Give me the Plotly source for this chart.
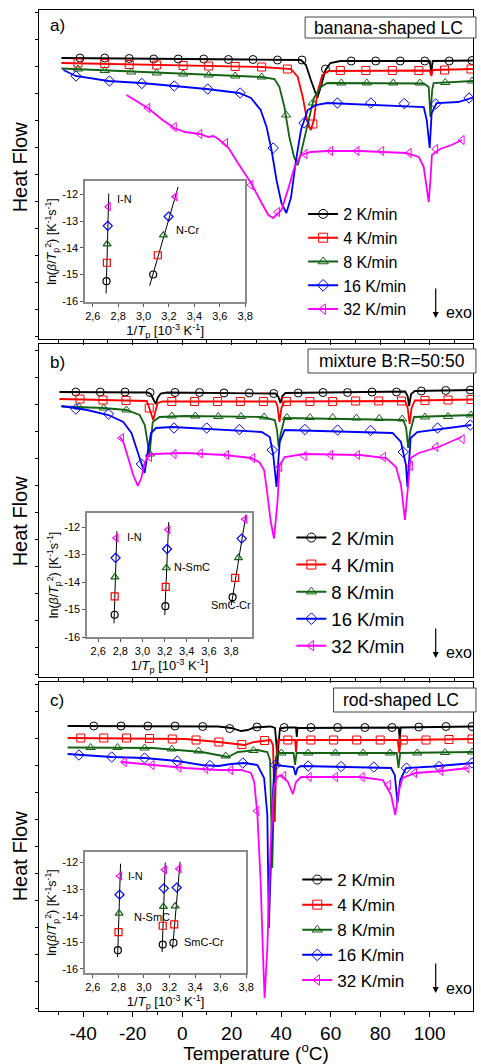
import plotly.graph_objects as go

# ---------------- data (temperature in °C, heat flow in arbitrary units) ----------------
RATES = ["2 K/min", "4 K/min", "8 K/min", "16 K/min", "32 K/min"]

# Panel a) banana-shaped LC : curves
A2_T = [-48.8, -13.9, 25.8, 48.0, 50.0, 52.0, 54.0, 54.6, 56.0, 57.9, 59.9, 63.9, 100.0, 100.7, 101.2, 117.5]
A2_HF = [28.1, 28.0, 27.95, 27.9, 27.4, 25.9, 24.4, 24.1, 25.2, 26.9, 27.6, 27.8, 27.8, 26.6, 27.8, 27.85]
A4_T = [-48.8, -13.9, 32.1, 44.0, 46.7, 48.7, 50.7, 52.0, 53.2, 54.6, 56.6, 59.1, 100.0, 100.7, 101.2, 117.5]
A4_HF = [27.6, 27.45, 27.2, 27.0, 26.2, 24.2, 21.6, 20.9, 21.9, 24.6, 26.4, 26.8, 26.85, 26.3, 26.9, 27.0]
A8_T = [-48.8, -13.9, 32.1, 37.3, 39.3, 41.3, 43.3, 45.2, 46.7, 48.0, 50.7, 53.2, 56.0, 58.6, 97.6, 99.6, 100.3, 101.0, 101.6, 117.5]
A8_HF = [27.05, 26.7, 26.2, 26.0, 25.2, 23.2, 20.2, 18.2, 17.4, 18.6, 21.6, 24.1, 25.2, 25.6, 25.55, 25.2, 22.2, 24.9, 25.6, 25.8]
A16_T = [-48.0, -43.0, -29.8, -16.7, -3.3, 9.9, 23.0, 27.8, 31.7, 34.1, 36.1, 38.1, 40.1, 42.1, 44.0, 46.0, 48.0, 50.7, 54.0, 58.6, 97.6, 98.8, 100.0, 100.8, 102.8, 111.5, 117.5]
A16_HF = [26.9, 26.3, 25.8, 25.6, 25.3, 25.0, 24.6, 24.1, 22.9, 21.2, 18.9, 15.9, 13.6, 12.6, 14.2, 17.9, 20.9, 22.9, 23.4, 23.6, 23.2, 21.9, 19.1, 22.6, 23.6, 23.7, 24.15]
A32_T = [-22.5, -13.9, -7.9, -3.3, 1.2, 7.1, 10.6, 12.6, 14.6, 18.5, 22.5, 27.8, 32.1, 34.8, 36.8, 40.1, 42.7, 45.4, 48.0, 52.0, 58.6, 71.8, 90.4, 95.6, 97.6, 98.9, 99.6, 100.3, 100.9, 104.2, 108.8, 113.1]
A32_HF = [24.4, 23.1, 21.9, 21.1, 20.7, 20.5, 20.2, 20.3, 20.0, 19.2, 17.6, 15.6, 13.6, 12.4, 12.1, 12.9, 14.9, 17.2, 18.4, 18.7, 18.8, 18.8, 18.6, 18.2, 17.2, 14.9, 13.7, 15.9, 18.4, 19.0, 19.4, 19.9]
# Panel a) symbol positions
A2_mT = [-41.3, -31.3, -21.4, -11.5, -1.6, 8.7, 18.7, 28.6, 38.5, 48.4, 57.9, 68.3, 78.2, 88.1, 98.0, 107.9, 117.1]
A2_mHF = [28.1, 28.1, 28.05, 28.0, 28.0, 28.0, 27.95, 27.95, 27.9, 27.9, 27.0, 27.8, 27.8, 27.8, 27.8, 27.8, 27.85]
A4_mT = [-42.1, -31.3, -21.4, -10.3, 0.4, 10.7, 21.4, 32.1, 42.5, 52.8, 63.9, 74.2, 84.9, 95.6, 106.0, 116.7]
A4_mHF = [27.6, 27.55, 27.45, 27.4, 27.35, 27.3, 27.25, 27.2, 27.0, 21.5, 26.85, 26.85, 26.85, 26.85, 26.9, 27.0]
A8_mT = [-42.1, -31.3, -20.6, -10.3, 0.4, 10.7, 21.4, 32.1, 42.0, 52.7, 64.3, 74.6, 85.3, 96.0, 106.3, 117.1]
A8_mHF = [27.0, 26.85, 26.7, 26.6, 26.5, 26.4, 26.3, 26.2, 22.4, 23.6, 25.6, 25.6, 25.6, 25.6, 25.65, 25.8]
A16_mT = [-42.9, -29.4, -16.3, -3.2, 10.3, 23.4, 36.8, 49.2, 62.7, 76.2, 89.7, 102.4, 115.9]
A16_mHF = [26.3, 25.8, 25.55, 25.3, 25.0, 24.6, 19.1, 21.6, 23.6, 23.6, 23.55, 23.5, 24.1]
A32_mT = [-13.9, -3.2, 7.1, 17.5, 27.8, 38.5, 49.6, 59.9, 70.6, 80.6, 91.7, 102.4, 113.1]
A32_mHF = [23.1, 21.2, 20.5, 19.6, 15.4, 12.7, 18.5, 18.8, 18.8, 18.8, 18.6, 19.0, 19.9]

# Panel b) mixture B:R=50:50 : curves
B2_T = [-49.6, -13.9, -12.7, -11.5, -10.7, -9.9, -8.7, -6.0, 37.7, 38.9, 39.7, 40.5, 41.7, 90.1, 91.1, 91.7, 92.5, 94.0, 117.5]
B2_HF = [28.5, 28.45, 28.3, 27.7, 27.3, 27.9, 28.35, 28.45, 28.35, 28.0, 27.4, 28.1, 28.4, 28.55, 28.1, 27.1, 28.3, 28.6, 28.7]
B4_T = [-49.6, -14.3, -13.3, -12.3, -11.7, -10.9, -9.9, -7.9, 37.7, 38.5, 39.3, 40.1, 41.3, 90.1, 91.1, 91.9, 92.7, 94.0, 117.5]
B4_HF = [27.8, 27.6, 26.9, 26.0, 25.7, 26.5, 27.4, 27.55, 27.55, 27.1, 25.5, 26.9, 27.55, 27.6, 26.9, 25.3, 26.9, 27.65, 27.75]
B8_T = [-48.8, -31.7, -22.6, -17.2, -15.1, -13.9, -13.2, -11.9, -9.2, 1.2, 32.1, 37.4, 38.3, 39.0, 39.7, 41.4, 89.3, 90.5, 91.3, 92.1, 93.7, 117.5]
B8_HF = [27.05, 26.9, 26.7, 26.2, 25.2, 23.2, 22.2, 25.5, 26.0, 26.1, 26.0, 25.7, 24.7, 23.0, 24.2, 25.9, 25.7, 24.9, 22.9, 24.5, 26.0, 26.2]
B16_T = [-48.8, -38.4, -29.8, -23.8, -20.5, -18.5, -16.9, -15.2, -13.9, -12.6, -10.6, -4.0, 32.1, 35.4, 36.8, 38.1, 39.4, 41.4, 85.0, 88.4, 90.4, 91.0, 92.3, 95.0, 116.8]
B16_HF = [27.1, 26.7, 26.2, 25.5, 24.4, 22.9, 21.5, 20.4, 22.5, 24.4, 24.9, 25.0, 24.5, 24.0, 22.2, 19.0, 23.5, 24.7, 24.4, 23.5, 21.2, 19.0, 23.9, 24.5, 25.2]
B32_T = [-25.1, -23.8, -21.8, -19.8, -17.9, -16.5, -15.2, -13.9, -11.9, 1.3, 17.2, 27.8, 31.1, 33.1, 34.1, 35.8, 37.1, 38.5, 39.4, 41.4, 49.3, 71.8, 82.4, 86.4, 88.4, 90.0, 91.3, 92.3, 95.6, 103.6, 112.8]
B32_HF = [24.0, 23.5, 21.9, 20.2, 19.1, 19.9, 21.4, 22.0, 22.3, 22.4, 22.2, 21.9, 21.5, 20.7, 18.9, 15.5, 13.85, 17.5, 21.2, 22.0, 22.3, 22.2, 21.9, 21.0, 19.2, 15.7, 19.2, 21.9, 22.4, 23.0, 24.0]
# Panel b) symbol positions
B2_mT = [-43.0, -33.1, -23.1, -13.0, -2.9, 7.0, 16.9, 27.1, 37.0, 46.9, 56.9, 66.8, 76.7, 86.6, 96.6, 106.5, 116.4]
B2_mHF = [28.5, 28.5, 28.5, 28.45, 28.45, 28.45, 28.4, 28.4, 28.35, 28.4, 28.45, 28.45, 28.5, 28.5, 28.6, 28.65, 28.7]
B4_mT = [-41.3, -32.0, -22.7, -13.3, -4.2, 5.0, 14.3, 23.5, 32.8, 42.1, 51.6, 60.8, 70.1, 79.4, 88.6, 98.1, 107.4, 116.7]
B4_mHF = [27.8, 27.7, 27.65, 26.9, 27.55, 27.55, 27.55, 27.55, 27.55, 27.55, 27.55, 27.55, 27.6, 27.6, 27.6, 27.65, 27.7, 27.75]
B8_mT = [-41.7, -31.7, -22.5, -13.0, -4.2, 5.3, 14.6, 23.8, 33.1, 42.3, 51.6, 60.8, 70.4, 79.6, 88.9, 98.1, 107.4, 116.7]
B8_mHF = [27.0, 26.9, 26.7, 22.3, 26.1, 26.1, 26.05, 26.05, 26.0, 25.95, 25.95, 25.95, 25.9, 25.85, 25.8, 26.0, 26.05, 26.2]
B16_mT = [-43.0, -29.8, -16.5, -3.3, 9.9, 23.1, 36.4, 49.6, 62.8, 76.1, 89.3, 103.2, 116.4]
B16_mHF = [26.8, 26.3, 21.3, 24.9, 24.9, 24.75, 22.7, 24.75, 24.7, 24.65, 22.5, 24.9, 25.2]
B32_mT = [-24.5, -13.2, -3.3, 7.3, 17.9, 28.5, 39.4, 49.3, 59.9, 70.8, 81.3, 92.2, 102.5, 113.1]
B32_mHF = [23.9, 22.0, 22.3, 22.35, 22.2, 21.9, 21.0, 22.1, 22.2, 22.2, 22.0, 21.1, 23.0, 23.8]

# Panel c) rod-shaped LC : curves
C2_T = [-46.3, 14.6, 19.8, 23.8, 26.5, 29.1, 35.7, 37.5, 38.1, 38.5, 38.9, 39.5, 41.7, 46.0, 46.3, 46.6, 87.5, 87.9, 88.3, 117.5]
C2_HF = [28.5, 28.45, 28.3, 28.0, 28.1, 28.35, 28.45, 28.3, 26.6, 24.6, 26.6, 28.25, 28.35, 28.35, 27.4, 28.3, 28.35, 27.1, 28.35, 28.45]
C4_T = [-46.3, 1.3, 14.6, 21.2, 25.1, 29.1, 35.7, 36.7, 37.4, 38.0, 38.8, 45.6, 46.0, 46.4, 87.1, 87.7, 88.3, 117.5]
C4_HF = [27.3, 27.2, 26.9, 26.7, 26.6, 26.9, 27.1, 26.6, 18.9, 25.1, 27.1, 27.1, 25.9, 27.1, 27.1, 25.8, 27.1, 27.2]
C8_T = [-46.3, -11.9, 7.9, 14.6, 18.5, 22.5, 30.4, 34.4, 35.5, 36.4, 37.1, 37.9, 38.8, 45.0, 45.6, 46.2, 86.7, 87.4, 88.1, 117.5]
C8_HF = [26.35, 26.3, 25.9, 25.6, 25.4, 25.9, 26.1, 25.9, 25.1, 14.3, 22.1, 25.4, 25.8, 25.8, 24.6, 25.8, 25.8, 24.3, 25.8, 25.9]
C16_T = [-46.3, -28.5, -15.2, -2.0, 7.9, 14.6, 19.8, 25.1, 30.4, 33.1, 34.4, 35.0, 35.9, 36.7, 37.4, 41.7, 45.0, 45.8, 46.6, 48.0, 84.4, 85.9, 87.0, 88.1, 90.4, 101.2, 117.5]
C16_HF = [25.7, 25.4, 25.3, 25.0, 24.6, 24.5, 24.7, 24.8, 24.6, 23.3, 19.6, 8.3, 15.1, 22.1, 24.6, 24.5, 24.4, 23.6, 24.3, 24.5, 24.3, 23.6, 20.8, 23.1, 24.3, 24.45, 24.8]
C32_T = [-24.5, -11.9, 1.3, 14.6, 23.8, 27.8, 29.1, 30.4, 31.7, 32.8, 33.3, 34.4, 35.7, 37.0, 38.4, 40.1, 42.7, 44.7, 46.0, 48.0, 71.8, 81.1, 84.4, 86.1, 87.4, 89.0, 94.3, 104.9, 115.5]
C32_HF = [24.9, 24.6, 24.3, 24.1, 24.1, 23.8, 22.9, 19.6, 12.9, 4.6, 1.3, 6.3, 16.3, 22.3, 23.4, 23.6, 22.9, 21.7, 22.9, 23.4, 23.4, 23.1, 21.6, 19.6, 21.9, 23.3, 23.8, 24.0, 24.3]
# Panel c) symbol positions
C2_mT = [-35.7, -24.7, -13.9, -2.9, 8.3, 19.2, 30.2, 41.2, 52.0, 62.8, 73.8, 84.8, 95.6, 106.6, 117.1]
C2_mHF = [28.5, 28.5, 28.5, 28.5, 28.45, 28.25, 28.4, 28.35, 28.35, 28.35, 28.35, 28.35, 28.4, 28.45, 28.45]
C4_mT = [-41.0, -31.7, -22.5, -13.2, -4.0, 5.6, 14.8, 24.1, 33.3, 42.7, 52.0, 61.2, 70.5, 80.0, 89.3, 98.5, 107.8, 117.1]
C4_mHF = [27.3, 27.3, 27.3, 27.25, 27.2, 27.1, 26.9, 26.65, 27.05, 27.1, 27.1, 27.1, 27.1, 27.1, 27.1, 27.1, 27.15, 27.2]
C8_mT = [-37.0, -26.1, -15.2, -4.2, 6.6, 17.6, 28.8, 40.1, 50.9, 61.9, 73.1, 84.0, 95.0, 106.2, 117.1]
C8_mHF = [26.35, 26.35, 26.3, 26.2, 26.0, 25.5, 26.05, 25.8, 25.8, 25.8, 25.8, 25.8, 25.8, 25.85, 25.9]
C16_mT = [-41.7, -28.5, -15.2, -2.0, 11.2, 24.5, 37.7, 50.9, 64.2, 77.4, 90.6, 103.8, 117.1]
C16_mHF = [25.6, 25.4, 25.3, 25.0, 24.55, 24.8, 24.6, 24.5, 24.45, 24.4, 24.3, 24.45, 24.8]
C32_mT = [-23.4, -12.2, -1.3, 9.5, 19.6, 30.2, 41.0, 51.3, 61.9, 72.7, 83.3, 93.9, 104.5, 115.1]
C32_mHF = [24.9, 24.6, 24.35, 24.2, 24.1, 20.0, 23.5, 23.4, 23.4, 23.4, 22.6, 23.8, 24.0, 24.3]

# Insets: ln(beta/Tp^2) vs 1/Tp   (points ordered 2, 4, 8, 16, 32 K/min)
IA_IN_X = [2.708, 2.711, 2.713, 2.718, 2.723]
IA_IN_Y = [-15.25, -14.56, -13.86, -13.18, -12.46]
IA_NCR_X = [3.076, 3.112, 3.156, 3.197, 3.249]
IA_NCR_Y = [-15.00, -14.28, -13.53, -12.83, -12.09]
IA_IN_FIT_X = [2.705, 2.726]
IA_IN_FIT_Y = [-15.71, -11.97]
IA_NCR_FIT_X = [3.048, 3.272]
IA_NCR_FIT_Y = [-15.42, -11.72]

IB_IN_X = [2.749, 2.749, 2.751, 2.757, 2.763]
IB_IN_Y = [-15.19, -14.52, -13.82, -13.12, -12.40]
IB_NSMC_X = [3.207, 3.210, 3.216, 3.222, 3.231]
IB_NSMC_Y = [-14.88, -14.18, -13.49, -12.80, -12.10]
IB_SMCCR_X = [3.814, 3.837, 3.867, 3.896, 3.926]
IB_SMCCR_Y = [-14.55, -13.85, -13.12, -12.42, -11.72]
IB_IN_FIT_X = [2.743, 2.769]
IB_IN_FIT_Y = [-15.50, -12.15]
IB_NSMC_FIT_X = [3.201, 3.237]
IB_NSMC_FIT_Y = [-15.20, -11.82]
IB_SMCCR_FIT_X = [3.802, 3.935]
IB_SMCCR_FIT_Y = [-14.85, -11.55]

IC_IN_X = [2.796, 2.801, 2.806, 2.809, 2.811]
IC_IN_Y = [-15.30, -14.62, -13.91, -13.21, -12.50]
IC_NSMC_X = [3.147, 3.147, 3.152, 3.155, 3.162]
IC_NSMC_Y = [-15.09, -14.38, -13.66, -12.97, -12.27]
IC_SMCCR_X = [3.231, 3.237, 3.244, 3.257, 3.275]
IC_SMCCR_Y = [-15.02, -14.33, -13.64, -12.94, -12.23]
IC_IN_FIT_X = [2.794, 2.817]
IC_IN_FIT_Y = [-15.56, -12.04]
IC_NSMC_FIT_X = [3.142, 3.167]
IC_NSMC_FIT_Y = [-15.37, -12.00]
IC_SMCCR_FIT_X = [3.224, 3.283]
IC_SMCCR_FIT_Y = [-15.24, -11.97]

MAIN_TICKS = [-40, -20, 0, 20, 40, 60, 80, 100]
MAIN_TICKTEXT = ["-40", "-20", "0", "20", "40", "60", "80", "100"]
INSET_XTICKS = [2.6, 2.8, 3.0, 3.2, 3.4, 3.6, 3.8]
INSET_XTEXT = ["2,6", "2,8", "3,0", "3,2", "3,4", "3,6", "3,8"]
INSET_YTICKS = [-12, -13, -14, -15, -16]
INSET_YTEXT = ["-12", "-13", "-14", "-15", "-16"]

# ---------------- styling ----------------
COLORS = ["#000000", "#ff0000", "#136313", "#0000ff", "#ff00ff"]
SYMBOLS = ["circle-open", "square-open", "triangle-up-open", "diamond-open", "triangle-left-open"]
FONT = "Liberation Sans, Arial, sans-serif"

W, H = 481, 1064
ML, MR, MT, MB = 39, 0, 10, 53
PW = W - ML - MR
PH = H - MT - MB


def fx(p):
    return (p - ML) / PW


def fy(p):
    return (H - MB - p) / PH


fig = go.Figure()

panels = [
    ("x", "y", "legend", [(A2_T, A2_HF, A2_mT, A2_mHF), (A4_T, A4_HF, A4_mT, A4_mHF),
                          (A8_T, A8_HF, A8_mT, A8_mHF), (A16_T, A16_HF, A16_mT, A16_mHF),
                          (A32_T, A32_HF, A32_mT, A32_mHF)]),
    ("x2", "y2", "legend2", [(B2_T, B2_HF, B2_mT, B2_mHF), (B4_T, B4_HF, B4_mT, B4_mHF),
                             (B8_T, B8_HF, B8_mT, B8_mHF), (B16_T, B16_HF, B16_mT, B16_mHF),
                             (B32_T, B32_HF, B32_mT, B32_mHF)]),
    ("x3", "y3", "legend3", [(C2_T, C2_HF, C2_mT, C2_mHF), (C4_T, C4_HF, C4_mT, C4_mHF),
                             (C8_T, C8_HF, C8_mT, C8_mHF), (C16_T, C16_HF, C16_mT, C16_mHF),
                             (C32_T, C32_HF, C32_mT, C32_mHF)]),
]

for xa, ya, lg, series in panels:
    for i, (t, hf, mt, mhf) in enumerate(series):
        fig.add_trace(go.Scatter(x=t, y=hf, mode="lines", xaxis=xa, yaxis=ya,
                                 line=dict(color=COLORS[i], width=1.8), showlegend=False,
                                 hoverinfo="skip"))
        fig.add_trace(go.Scatter(x=mt, y=mhf, mode="markers", xaxis=xa, yaxis=ya,
                                 marker=dict(symbol=SYMBOLS[i], size=8, color=COLORS[i],
                                             line=dict(width=1)),
                                 showlegend=False, hoverinfo="skip"))
    for i, name in enumerate(RATES):
        fig.add_trace(go.Scatter(x=[None], y=[None], mode="lines+markers", name=name,
                                 xaxis=xa, yaxis=ya, legend=lg,
                                 line=dict(color=COLORS[i], width=2),
                                 marker=dict(symbol=SYMBOLS[i], size=9, color=COLORS[i],
                                             line=dict(width=1))))

insets = [
    ("x4", "y4", [(IA_IN_FIT_X, IA_IN_FIT_Y, IA_IN_X, IA_IN_Y),
                  (IA_NCR_FIT_X, IA_NCR_FIT_Y, IA_NCR_X, IA_NCR_Y)]),
    ("x5", "y5", [(IB_IN_FIT_X, IB_IN_FIT_Y, IB_IN_X, IB_IN_Y),
                  (IB_NSMC_FIT_X, IB_NSMC_FIT_Y, IB_NSMC_X, IB_NSMC_Y),
                  (IB_SMCCR_FIT_X, IB_SMCCR_FIT_Y, IB_SMCCR_X, IB_SMCCR_Y)]),
    ("x6", "y6", [(IC_IN_FIT_X, IC_IN_FIT_Y, IC_IN_X, IC_IN_Y),
                  (IC_NSMC_FIT_X, IC_NSMC_FIT_Y, IC_NSMC_X, IC_NSMC_Y),
                  (IC_SMCCR_FIT_X, IC_SMCCR_FIT_Y, IC_SMCCR_X, IC_SMCCR_Y)]),
]
for xa, ya, groups in insets:
    for fxs, fys, px_, py_ in groups:
        fig.add_trace(go.Scatter(x=fxs, y=fys, mode="lines", xaxis=xa, yaxis=ya,
                                 line=dict(color="black", width=1), showlegend=False,
                                 hoverinfo="skip"))
        fig.add_trace(go.Scatter(x=px_, y=py_, mode="markers", xaxis=xa, yaxis=ya,
                                 marker=dict(symbol=SYMBOLS, size=7, color=COLORS,
                                             line=dict(width=1.2)),
                                 showlegend=False, hoverinfo="skip"))

# ---------------- axes ----------------
main_dom = {
    "": [fy(339), fy(10)],
    "2": [fy(677), fy(344)],
    "3": [fy(1011), fy(682)],
}
yr = {"": [0, 32.9], "2": [0, 33.3], "3": [0, 32.9]}
layout_axes = {}
for k in ["", "2", "3"]:
    layout_axes["xaxis" + k] = dict(
        domain=[0, 1], range=[-57.85, 117.5], anchor="y" + k,
        showline=True, linecolor="black", linewidth=1.3, mirror=True,
        ticks="outside", ticklen=5, tickwidth=1, tickcolor="black",
        tickmode="array", tickvals=MAIN_TICKS, ticktext=MAIN_TICKTEXT,
        minor=dict(tickmode="linear", tick0=0, dtick=10, ticks="outside", ticklen=3,
                   tickcolor="black"),
        showgrid=False, zeroline=False, showticklabels=(k == "3"),
        tickfont=dict(size=19, color="black", family=FONT),
    )
    layout_axes["yaxis" + k] = dict(
        domain=main_dom[k], range=yr[k], anchor="x" + k,
        showline=True, linecolor="black", linewidth=1.3, mirror=True,
        ticks="outside", ticklen=3, tickcolor="black", dtick=2.7, tick0=0.3,
        showticklabels=False, showgrid=False, zeroline=False,
    )
layout_axes["xaxis3"]["title"] = dict(text="Temperature (<sup>o</sup>C)",
                                      font=dict(size=19, color="black", family=FONT),
                                      standoff=5)

inset_geo = {
    "4": dict(x=[fx(86), fx(249)], y=[fy(302), fy(181)], xr=[2.54, 3.8], yr=[-16.03, -11.5]),
    "5": dict(x=[fx(88), fx(256)], y=[fy(637), fy(513)], xr=[2.5, 3.99], yr=[-16.0, -11.49]),
    "6": dict(x=[fx(86), fx(250)], y=[fy(973), fy(852)], xr=[2.54, 3.8], yr=[-16.16, -11.6]),
}
for k, g in inset_geo.items():
    layout_axes["xaxis" + k] = dict(
        domain=g["x"], range=g["xr"], anchor="y" + k,
        showline=True, linecolor="#8a8a8a", linewidth=1.5, mirror=True,
        ticks="outside", ticklen=3, tickcolor="#555555",
        tickmode="array", tickvals=INSET_XTICKS, ticktext=INSET_XTEXT,
        tickfont=dict(size=11, color="black", family=FONT),
        showgrid=False, zeroline=False,
        title=dict(text="1/<i>T</i><sub>p</sub> [10<sup>-3</sup> K<sup>-1</sup>]",
                   font=dict(size=13, color="black", family=FONT), standoff=2),
    )
    layout_axes["yaxis" + k] = dict(
        domain=g["y"], range=g["yr"], anchor="x" + k,
        showline=True, linecolor="#8a8a8a", linewidth=1.5, mirror=True,
        ticks="outside", ticklen=3, tickcolor="#555555",
        tickmode="array", tickvals=INSET_YTICKS, ticktext=INSET_YTEXT,
        tickfont=dict(size=11, color="black", family=FONT),
        showgrid=False, zeroline=False,
        title=dict(text="ln(<i>β</i>/<i>T</i><sub>p</sub><sup>2</sup>) [K<sup>-1</sup>s<sup>-1</sup>]",
                   font=dict(size=12.5, color="black", family=FONT), standoff=3),
    )

# ---------------- annotations & shapes ----------------
ann = []
shapes = []


def label(text, x, y, size, xanchor="left", **kw):
    d = dict(text=text, x=x, y=y, xref="paper", yref="paper", showarrow=False,
             xanchor=xanchor, yanchor="middle",
             font=dict(size=size, color="black", family=FONT))
    d.update(kw)
    ann.append(d)


for txt, yy in [("a)", 25), ("b)", 362), ("c)", 700)]:
    label(txt, fx(48), fy(yy), 17)

for txt, xc, yc, box in [("banana-shaped LC", 395, 28, (310, 17, 38)),
                         ("mixture B:R=50:50", 398, 361, (313, 349, 373)),
                         ("rod-shaped LC", 408, 700, (339, 688, 712))]:
    shapes.append(dict(type="rect", xref="paper", yref="paper", x0=fx(box[0]), x1=fx(484),
                       y0=fy(box[2]), y1=fy(box[1]), line=dict(color="#444444", width=1),
                       fillcolor="white", layer="above"))
    label(txt, fx(xc), fy(yc), 17.5, xanchor="center")

for yc in [167, 521, 856]:
    label("Heat Flow", fx(20), fy(yc), 20, xanchor="center", textangle=-90)

for ytip, ytext in [(318, 313), (658, 652), (993, 988)]:
    ann.append(dict(text="", x=fx(443), y=fy(ytip), xref="paper", yref="paper",
                    ax=0, ay=-31, showarrow=True, arrowhead=2, arrowsize=1,
                    arrowwidth=1.2, arrowcolor="black"))
    label("exo", fx(451), fy(ytext), 16)

# inset text labels (data coordinates of the inset axes)
for txt, xa, ya, x, y in [("I-N", "x4", "y4", 2.777, -12.18), ("N-Cr", "x4", "y4", 3.241, -13.34),
                          ("I-N", "x5", "y5", 2.84, -12.36), ("N-SmC", "x5", "y5", 3.266, -13.45),
                          ("SmC-Cr", "x5", "y5", 3.60, -14.82),
                          ("I-N", "x6", "y6", 2.86, -12.52), ("N-SmC", "x6", "y6", 2.904, -14.05),
                          ("SmC-Cr", "x6", "y6", 3.295, -14.99)]:
    ann.append(dict(text=txt, x=x, y=y, xref=xa, yref=ya, showarrow=False,
                    xanchor="left", yanchor="middle",
                    font=dict(size=11, color="black", family=FONT)))

legend_common = dict(xanchor="left", yanchor="top", bgcolor="rgba(0,0,0,0)",
                     borderwidth=0, tracegroupgap=0, itemclick=False)

fig.update_layout(
    width=W, height=H,
    margin=dict(l=ML, r=MR, t=MT, b=MB),
    paper_bgcolor="white", plot_bgcolor="white",
    font=dict(family=FONT, color="black"),
    annotations=ann, shapes=shapes,
    legend=dict(x=fx(308), y=fy(197), font=dict(size=16, family=FONT, color="black"), **legend_common),
    legend2=dict(x=fx(296), y=fy(519), font=dict(size=18.5, family=FONT, color="black"), **legend_common),
    legend3=dict(x=fx(302), y=fy(862), font=dict(size=17, family=FONT, color="black"), **legend_common),
    **layout_axes,
)

fig.write_html("out.html", config={"displayModeBar": False},
               post_script="document.body.style.margin='0';document.body.style.padding='0';document.body.style.overflow='hidden';")
